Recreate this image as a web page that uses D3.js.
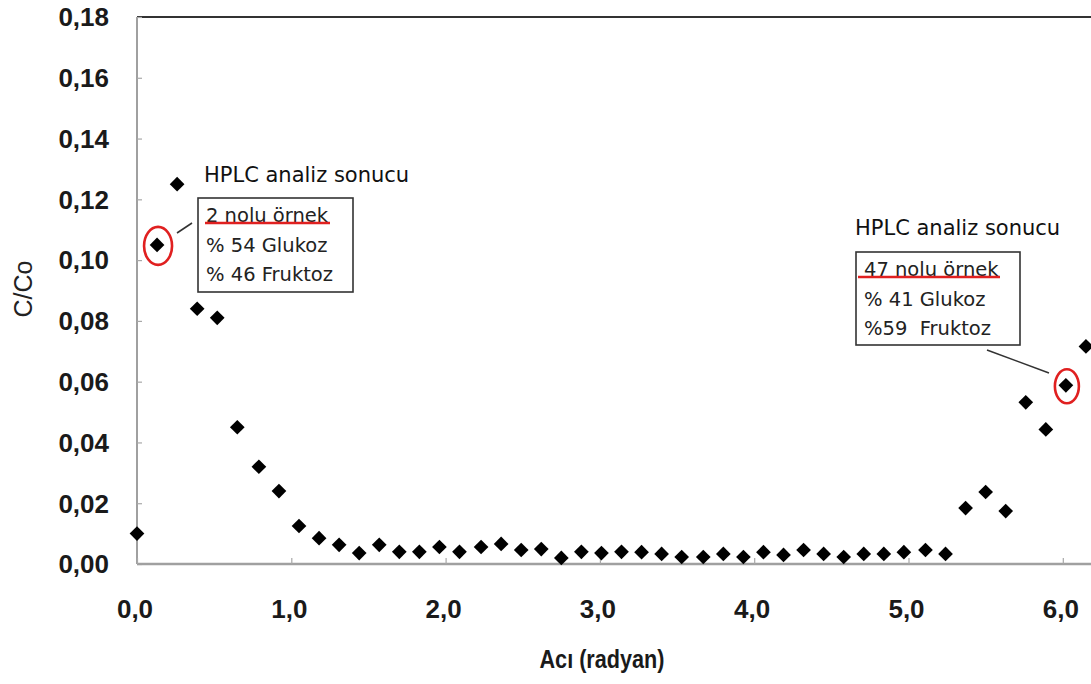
<!DOCTYPE html>
<html>
<head>
<meta charset="utf-8">
<script src="https://cdn.jsdelivr.net/npm/d3@7"></script>
<style>
  html, body { margin: 0; padding: 0; background: #fff; }
  svg { display: block; }
  text.row { white-space: pre; }
</style>
</head>
<body>
<svg id="chart" width="1091" height="684"></svg>
<script>
// Rotation angle of each sample (radians)
const angles = [
  0.00, 0.13, 0.26, 0.39, 0.52, 0.65, 0.79, 0.92, 1.05, 1.18, 1.31, 1.44,
  1.57, 1.70, 1.83, 1.96, 2.09, 2.23, 2.36, 2.49, 2.62, 2.75, 2.88, 3.01,
  3.14, 3.27, 3.40, 3.53, 3.67, 3.80, 3.93, 4.06, 4.19, 4.32, 4.45, 4.58,
  4.71, 4.84, 4.97, 5.11, 5.24, 5.37, 5.50, 5.63, 5.76, 5.89, 6.02, 6.15
];
// Relative concentration C/Co of each sample
const ratios = [
  0.0100, 0.1050, 0.1250, 0.0840, 0.0810, 0.0450, 0.0320, 0.0240, 0.0125, 0.0085, 0.0063, 0.0036,
  0.0063, 0.0040, 0.0040, 0.0056, 0.0040, 0.0056, 0.0066, 0.0046, 0.0049, 0.0020, 0.0040, 0.0036,
  0.0040, 0.0039, 0.0033, 0.0023, 0.0023, 0.0033, 0.0023, 0.0039, 0.0030, 0.0046, 0.0033, 0.0023,
  0.0033, 0.0033, 0.0039, 0.0046, 0.0033, 0.0184, 0.0237, 0.0174, 0.0532, 0.0443, 0.0588, 0.0716
];
const xTicks = [0, 1, 2, 3, 4, 5, 6];
const yTicks = [0, 0.02, 0.04, 0.06, 0.08, 0.10, 0.12, 0.14, 0.16, 0.18];

// HPLC results attached to two samples (1-based sample numbers)
const notes = [
  { sample: 2,  lines: ["2 nolu örnek", "% 54 Glukoz", "% 46 Fruktoz"] },
  { sample: 47, lines: ["47 nolu örnek", "% 41 Glukoz", "%59  Fruktoz"] }
];

const svg = d3.select("#chart");
const plotLeft = 137, plotBottom = 564, plotTop = 17, plotRight = 1091;

const x = d3.scaleLinear().domain([0, 6.2]).range([plotLeft, plotLeft + 6.2 * 154.3]);
const y = d3.scaleLinear().domain([0, 0.18]).range([plotBottom, plotTop]);

const fmt = (d, n) => d.toFixed(n).replace(".", ",");
const sansBold = "'Liberation Sans', Arial, sans-serif";

// top border
svg.append("line")
  .attr("x1", plotLeft).attr("x2", plotRight).attr("y1", plotTop).attr("y2", plotTop)
  .attr("stroke", "#333").attr("stroke-width", 2);

// y axis
const yAxis = svg.append("g").attr("transform", `translate(${plotLeft},0)`)
  .call(d3.axisRight(y).tickValues(yTicks).tickSize(5).tickFormat(""));
yAxis.select(".domain").attr("stroke", "#a0a0a0").attr("stroke-width", 2)
  .attr("d", `M0,${plotBottom}V${plotTop}`);
yAxis.selectAll(".tick line").attr("stroke", "#a8a8a8").attr("stroke-width", 1.2);

svg.append("g").selectAll("text").data(yTicks).join("text")
  .attr("x", 109).attr("y", d => y(d))
  .attr("dy", "0.36em")
  .attr("text-anchor", "end")
  .attr("font-family", sansBold).attr("font-weight", "bold").attr("font-size", 26)
  .attr("fill", "#1a1a1a")
  .text(d => fmt(d, 2));

// x axis
const xAxis = svg.append("g").attr("transform", `translate(0,${plotBottom})`)
  .call(d3.axisTop(x).tickValues(xTicks).tickSize(6).tickFormat(""));
xAxis.select(".domain").attr("stroke", "#a0a0a0").attr("stroke-width", 2.4)
  .attr("d", `M${plotLeft},0H${plotRight}`);
xAxis.selectAll(".tick line").attr("stroke", "#a8a8a8").attr("stroke-width", 1.2);

svg.append("g").selectAll("text").data(xTicks).join("text")
  .attr("x", d => x(d) - 2).attr("y", 618)
  .attr("text-anchor", "middle")
  .attr("font-family", sansBold).attr("font-weight", "bold").attr("font-size", 26)
  .attr("fill", "#1a1a1a")
  .text(d => fmt(d, 1));

// axis titles
svg.append("text")
  .attr("x", 602).attr("y", 668)
  .attr("text-anchor", "middle")
  .attr("font-family", sansBold).attr("font-weight", "bold").attr("font-size", 25)
  .attr("textLength", 125).attr("lengthAdjust", "spacingAndGlyphs")
  .attr("fill", "#1a1a1a")
  .text("Acı (radyan)");

svg.append("text")
  .attr("transform", "translate(32,289) rotate(-90)")
  .attr("text-anchor", "middle")
  .attr("font-family", "'Liberation Sans', Arial, sans-serif").attr("font-size", 25)
  .attr("fill", "#222")
  .text("C/Co");

// data markers (filled diamonds)
const pts = angles.map((a, i) => ({ a, r: ratios[i] }));
svg.append("g").selectAll("path").data(pts).join("path")
  .attr("d", d3.symbol(d3.symbolSquare, 108))
  .attr("transform", d => `translate(${x(d.a)},${y(d.r)}) rotate(45)`)
  .attr("fill", "#000");

// annotation layout: heading, box, leader line and highlighted point
const boxes = [
  { head: [204, 182], box: [198, 198, 155, 94], lead: [[192, 223], [177, 233]],
    ell: [14, 19], line0: 205, lineW: 125 },
  { head: [855, 235], box: [856, 252, 164, 93], lead: [[987, 350], [1049, 373]],
    ell: [12, 17], line0: 858, lineW: 142 }
];
const annoFont = "'DejaVu Sans', Verdana, sans-serif";

notes.forEach((n, k) => {
  const b = boxes[k];
  const p = pts[n.sample - 1];
  const g = svg.append("g");

  g.append("text")
    .attr("x", b.head[0]).attr("y", b.head[1])
    .attr("font-family", annoFont).attr("font-size", 21)
    .attr("fill", "#111")
    .text("HPLC analiz sonucu");

  g.append("rect")
    .attr("x", b.box[0]).attr("y", b.box[1])
    .attr("width", b.box[2]).attr("height", b.box[3])
    .attr("fill", "#fff").attr("stroke", "#333").attr("stroke-width", 1.6);

  g.selectAll("text.row").data(n.lines).join("text")
    .attr("class", "row")
    .attr("x", b.box[0] + 8)
    .attr("y", (d, i) => b.box[1] + 24 + i * 29.5)
    .attr("font-family", annoFont).attr("font-size", 19.5)
    .attr("fill", "#222")
    .text(d => d);

  // red underline under the sample title
  g.append("line")
    .attr("x1", b.line0).attr("x2", b.line0 + b.lineW)
    .attr("y1", b.box[1] + 25).attr("y2", b.box[1] + 25)
    .attr("stroke", "#e02020").attr("stroke-width", 2.6);

  g.append("line")
    .attr("x1", b.lead[0][0]).attr("y1", b.lead[0][1])
    .attr("x2", b.lead[1][0]).attr("y2", b.lead[1][1])
    .attr("stroke", "#333").attr("stroke-width", 1.6);

  g.append("ellipse")
    .attr("cx", x(p.a) + 1).attr("cy", y(p.r) + 1)
    .attr("rx", b.ell[0]).attr("ry", b.ell[1])
    .attr("fill", "none").attr("stroke", "#e02020").attr("stroke-width", 2.6);
});
</script>
</body>
</html>
